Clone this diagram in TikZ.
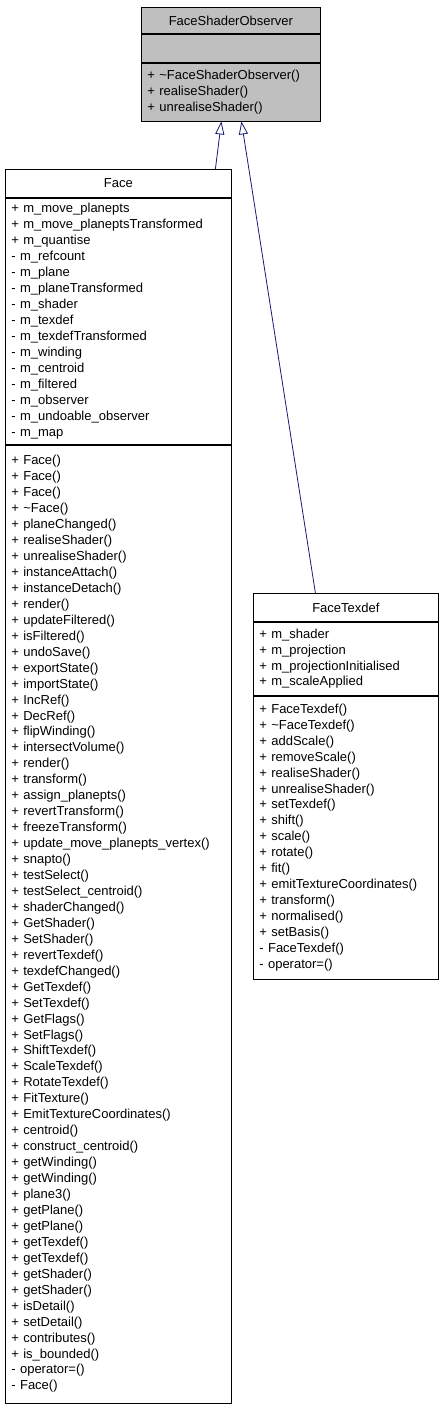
\documentclass[tikz,border=0pt]{standalone}
\usepackage{fontspec}
\setmainfont{Liberation Sans}
\usepackage{tikz}
\usetikzlibrary{positioning,arrows.meta}
\definecolor{classgray}{RGB}{191,191,191}
\definecolor{edgeblue}{RGB}{25,25,112}
\tikzset{class title/.style={draw, line width=0.8pt, inner sep=0pt, minimum height=28pt, minimum width=#1, anchor=north west}}
\tikzset{class part/.style={draw, line width=0.8pt, inner xsep=6pt, inner ysep=0pt, text width=#1, align=left, anchor=north}}
\tikzset{inherit/.style={draw=edgeblue, line width=0.8pt, -{Triangle[open, length=13pt, width=9pt]}}}

\begin{document}
\begin{tikzpicture}[x=1pt, y=1pt, font=\fontsize{13}{15.95}\selectfont]
\useasboundingbox (0,0) rectangle (443,-1408);

% base class
\node[class title=179pt, fill=classgray, minimum height=26pt] (fso title) at (141,-7) {FaceShaderObserver};
\node[class part=167pt, fill=classgray, minimum height=28pt, below=0pt of fso title] (fso attrs) {};
\node[class part=167pt, fill=classgray, minimum height=58pt, below=0pt of fso attrs] (fso ops) {+ \textasciitilde FaceShaderObserver()\\+ realiseShader()\\+ unrealiseShader()};

% Face
\node[class title=226pt] (face title) at (5,-169) {Face};
\node[class part=214pt, minimum height=246pt, below=0pt of face title] (face attrs) {+ m\_move\_planepts\\+ m\_move\_planeptsTransformed\\+ m\_quantise\\- m\_refcount\\- m\_plane\\- m\_planeTransformed\\- m\_shader\\- m\_texdef\\- m\_texdefTransformed\\- m\_winding\\- m\_centroid\\- m\_filtered\\- m\_observer\\- m\_undoable\_observer\\- m\_map};
\node[class part=214pt, minimum height=958pt, below=0pt of face attrs] (face ops) {+ Face()\\+ Face()\\+ Face()\\+ \textasciitilde Face()\\+ planeChanged()\\+ realiseShader()\\+ unrealiseShader()\\+ instanceAttach()\\+ instanceDetach()\\+ render()\\+ updateFiltered()\\+ isFiltered()\\+ undoSave()\\+ exportState()\\+ importState()\\+ IncRef()\\+ DecRef()\\+ flipWinding()\\+ intersectVolume()\\+ render()\\+ transform()\\+ assign\_planepts()\\+ revertTransform()\\+ freezeTransform()\\+ update\_move\_planepts\_vertex()\\+ snapto()\\+ testSelect()\\+ testSelect\_centroid()\\+ shaderChanged()\\+ GetShader()\\+ SetShader()\\+ revertTexdef()\\+ texdefChanged()\\+ GetTexdef()\\+ SetTexdef()\\+ GetFlags()\\+ SetFlags()\\+ ShiftTexdef()\\+ ScaleTexdef()\\+ RotateTexdef()\\+ FitTexture()\\+ EmitTextureCoordinates()\\+ centroid()\\+ construct\_centroid()\\+ getWinding()\\+ getWinding()\\+ plane3()\\+ getPlane()\\+ getPlane()\\+ getTexdef()\\+ getTexdef()\\+ getShader()\\+ getShader()\\+ isDetail()\\+ setDetail()\\+ contributes()\\+ is\_bounded()\\- operator=()\\- Face()};

% FaceTexdef
\node[class title=185pt] (tex title) at (253,-593) {FaceTexdef};
\node[class part=173pt, minimum height=73pt, below=0pt of tex title] (tex attrs) {+ m\_shader\\+ m\_projection\\+ m\_projectionInitialised\\+ m\_scaleApplied};
\node[class part=173pt, minimum height=283pt, below=0pt of tex attrs] (tex ops) {+ FaceTexdef()\\+ \textasciitilde FaceTexdef()\\+ addScale()\\+ removeScale()\\+ realiseShader()\\+ unrealiseShader()\\+ setTexdef()\\+ shift()\\+ scale()\\+ rotate()\\+ fit()\\+ emitTextureCoordinates()\\+ transform()\\+ normalised()\\+ setBasis()\\- FaceTexdef()\\- operator=()};

% inheritance
\draw[inherit] ([xshift=97pt]face title.north) -- ([xshift=-9.5pt]fso ops.south);
\draw[inherit] ([xshift=-30.5pt]tex title.north) -- ([xshift=10.5pt]fso ops.south);

\end{tikzpicture}
\end{document}
